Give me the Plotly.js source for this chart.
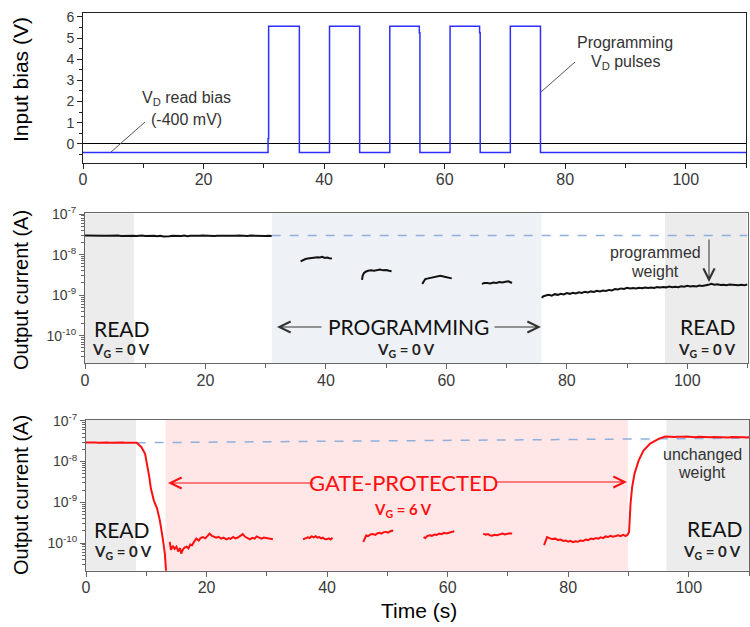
<!DOCTYPE html>
<html><head><meta charset="utf-8">
<script src="https://cdn.plot.ly/plotly-3.0.1.min.js"></script>
<style>html,body{margin:0;padding:0;background:#fff}#chart{width:750px;height:627px}</style>
</head><body><div id="chart"></div>
<script>
// ---- Data ----
var biasTime = [0,30.7,30.7,30.8,30.8,35.9,35.9,40.9,40.9,45.9,45.9,50.9,50.9,55.8,55.8,55.9,55.9,60.9,60.9,65.8,65.8,65.9,65.9,70.9,70.9,75.9,75.9,110];
var biasVolt = [-0.4,-0.4,0.25,0.25,5.55,5.55,-0.4,-0.4,5.55,5.55,-0.4,-0.4,5.55,5.55,5.25,5.25,-0.4,-0.4,5.55,5.55,5.25,5.25,-0.4,-0.4,5.55,5.55,-0.4,-0.4];

var progTime = [0,0.5,1,1.5,2,2.5,3,3.5,4,4.5,5,5.5,6,6.5,7,7.5,8,8.5,9,9.5,10,10.5,11,11.5,12,12.5,13,13.5,14,14.5,15,15.5,16,16.5,17,17.5,18,18.5,19,19.5,20,20.5,21,21.5,22,22.5,23,23.5,24,24.5,25,25.5,26,26.5,27,27.5,28,28.5,29,29.5,30,30.5,31,null,
  35.8,36.0,36.3,36.6,37.0,37.4,37.8,38.2,38.6,39.0,39.4,39.8,40.2,40.6,41.0,null,
  46.0,46.1,46.3,46.6,47.0,47.5,48.0,48.5,49.0,49.5,50.0,50.5,50.9,null,
  56.0,56.2,56.5,57.0,57.5,58.0,58.5,59.0,59.5,60.0,60.5,60.9,null,
  65.9,66.3,66.8,67.3,67.8,68.3,68.8,69.3,69.8,70.3,70.9,null,
  75.9,76.0,76.5,77,77.5,78,78.5,79,79.5,80,80.5,81,81.5,82,82.5,83,83.5,84,84.5,85,85.5,86,86.5,87,87.5,88,88.5,89,89.5,90,90.5,91,91.5,92,92.5,93,93.5,94,94.5,95,95.5,96,96.5,97,97.5,98,98.5,99,99.5,100,100.5,101,101.5,102,102.5,103,103.5,104,104.5,105,105.5,106,106.5,107,107.5,108,108.5,109,109.5,110];
var progCurrent = [2.95e-8,2.93e-8,2.96e-8,2.92e-8,2.94e-8,2.95e-8,2.91e-8,2.94e-8,2.96e-8,2.92e-8,2.93e-8,2.95e-8,2.90e-8,2.93e-8,2.95e-8,2.92e-8,2.94e-8,2.88e-8,2.93e-8,2.95e-8,2.90e-8,2.93e-8,2.91e-8,2.94e-8,2.85e-8,2.92e-8,2.80e-8,2.88e-8,2.84e-8,2.91e-8,2.87e-8,2.93e-8,2.90e-8,2.95e-8,2.86e-8,2.92e-8,2.89e-8,2.94e-8,2.91e-8,2.95e-8,2.92e-8,2.88e-8,2.94e-8,2.90e-8,2.93e-8,2.97e-8,2.91e-8,2.94e-8,2.92e-8,2.89e-8,2.94e-8,2.96e-8,2.91e-8,2.93e-8,2.90e-8,2.95e-8,2.92e-8,2.94e-8,2.97e-8,2.92e-8,2.90e-8,2.93e-8,2.89e-8,null,
  6.8e-9,7.1e-9,7.5e-9,7.8e-9,8.0e-9,8.2e-9,8.1e-9,8.4e-9,8.6e-9,8.5e-9,8.8e-9,8.3e-9,8.5e-9,8.2e-9,8.0e-9,null,
  2.4e-9,3.0e-9,3.5e-9,3.8e-9,4.0e-9,4.1e-9,4.0e-9,4.2e-9,4.3e-9,4.1e-9,4.2e-9,4.0e-9,3.9e-9,null,
  1.9e-9,2.2e-9,2.5e-9,2.6e-9,2.7e-9,2.7e-9,2.9e-9,3.0e-9,2.9e-9,2.8e-9,2.7e-9,2.6e-9,null,
  1.9e-9,2.0e-9,2.0e-9,1.95e-9,2.05e-9,2.0e-9,2.1e-9,2.05e-9,2.15e-9,2.2e-9,2.0e-9,null,
  0.85e-9,0.92e-9,0.98e-9,1.02e-9,0.97e-9,1.06e-9,1.02e-9,1.08e-9,1.04e-9,1.13e-9,1.08e-9,1.15e-9,1.10e-9,1.18e-9,1.14e-9,1.22e-9,1.17e-9,1.24e-9,1.20e-9,1.28e-9,1.24e-9,1.30e-9,1.27e-9,1.35e-9,1.31e-9,1.42e-9,1.38e-9,1.47e-9,1.43e-9,1.52e-9,1.47e-9,1.50e-9,1.46e-9,1.53e-9,1.49e-9,1.55e-9,1.51e-9,1.54e-9,1.50e-9,1.58e-9,1.54e-9,1.60e-9,1.56e-9,1.63e-9,1.58e-9,1.61e-9,1.57e-9,1.66e-9,1.62e-9,1.70e-9,1.64e-9,1.69e-9,1.65e-9,1.74e-9,1.69e-9,1.73e-9,1.80e-9,1.92e-9,1.82e-9,1.86e-9,1.78e-9,1.82e-9,1.76e-9,1.84e-9,1.79e-9,1.81e-9,1.75e-9,1.80e-9,1.77e-9,1.83e-9];

var protTime = [0,0.5,1,1.5,2,2.5,3,3.5,4,4.5,5,5.5,6,6.5,7,7.5,8,8.4,9.2,9.8,10.15,10.5,10.76,11.26,11.8,12.25,12.7,13.08,13.25,13.3,null,
  13.9,14.1,14.4,14.7,15.0,15.3,15.6,15.8,16.1,16.4,16.7,17.0,17.3,17.6,17.9,18.3,18.7,19.0,19.4,19.8,20.1,20.5,20.9,21.3,21.6,22.0,22.4,22.8,23.3,23.7,24.0,24.4,24.8,25.2,25.6,26.0,26.4,26.8,27.2,27.6,28.0,28.3,28.7,29.1,29.5,29.9,30.4,31.0,null,
  36.0,36.4,36.8,37.1,37.4,37.8,38.1,38.4,38.7,39.0,39.3,39.6,39.9,40.3,40.6,40.9,null,
  46.0,46.2,46.5,46.8,47.2,47.6,48.0,48.3,48.7,49.0,49.4,49.8,50.1,50.5,50.8,50.9,null,
  56.0,56.3,56.6,57.0,57.4,57.8,58.2,58.6,59.0,59.4,59.8,60.2,60.6,61.1,null,
  65.9,66.3,66.7,67.0,67.4,67.8,68.2,68.6,69.1,69.5,69.9,70.3,70.7,null,
  76.0,76.3,76.5,76.9,77.3,77.9,78.3,78.7,79.2,79.6,80.0,80.4,80.8,81.2,81.6,82.0,82.5,82.9,83.3,83.8,84.2,84.6,85.0,85.4,85.8,86.2,86.6,87.0,87.4,87.9,88.3,88.7,89.1,89.5,89.8,
  90.1,90.2,90.35,90.6,91.0,91.7,92.5,93.6,95.0,
  96.1,96.6,97.1,97.6,98.1,98.6,99.1,99.6,100.1,100.6,101.1,101.6,102.1,102.6,103.1,103.6,104.1,104.6,105.1,105.6,106.1,106.6,107.1,107.6,108.1,108.6,109.1,109.6,110];
var protCurrent = [2.92e-8,2.95e-8,2.90e-8,2.93e-8,2.91e-8,2.94e-8,2.89e-8,2.92e-8,2.90e-8,2.93e-8,2.91e-8,2.88e-8,2.92e-8,2.90e-8,2.93e-8,2.91e-8,2.89e-8,2.88e-8,2.25e-8,1.55e-8,8.9e-9,4.2e-9,2.2e-9,1.1e-9,7.0e-10,3.6e-10,1.4e-10,5.5e-11,2.4e-11,1.5e-11,null,
  1.07e-10,6.8e-11,8.5e-11,7.2e-11,8.1e-11,6.2e-11,7.5e-11,5.5e-11,7.0e-11,7.8e-11,8.1e-11,7.4e-11,9.2e-11,8.8e-11,1.05e-10,1.29e-10,1.15e-10,1.32e-10,1.40e-10,1.30e-10,1.45e-10,1.70e-10,1.50e-10,1.38e-10,1.35e-10,1.42e-10,1.28e-10,1.35e-10,1.23e-10,1.32e-10,1.26e-10,1.40e-10,1.30e-10,1.36e-10,1.48e-10,1.65e-10,1.42e-10,1.30e-10,1.23e-10,1.34e-10,1.28e-10,1.45e-10,1.33e-10,1.28e-10,1.36e-10,1.32e-10,1.27e-10,1.23e-10,null,
  1.23e-10,1.30e-10,1.38e-10,1.32e-10,1.45e-10,1.38e-10,1.47e-10,1.36e-10,1.40e-10,1.30e-10,1.35e-10,1.25e-10,1.23e-10,1.30e-10,1.22e-10,1.35e-10,null,
  1.07e-10,1.30e-10,1.55e-10,1.48e-10,1.62e-10,1.66e-10,1.58e-10,1.72e-10,1.78e-10,1.70e-10,1.85e-10,1.87e-10,1.80e-10,1.95e-10,2.0e-10,1.9e-10,null,
  1.40e-10,1.32e-10,1.48e-10,1.55e-10,1.50e-10,1.62e-10,1.58e-10,1.70e-10,1.65e-10,1.78e-10,1.72e-10,1.80e-10,1.85e-10,1.95e-10,null,
  1.70e-10,1.60e-10,1.66e-10,1.55e-10,1.52e-10,1.60e-10,1.56e-10,1.64e-10,1.70e-10,1.62e-10,1.68e-10,1.74e-10,1.70e-10,null,
  8.9e-11,1.15e-10,1.40e-10,1.32e-10,1.25e-10,1.28e-10,1.18e-10,1.22e-10,1.12e-10,1.15e-10,1.08e-10,1.13e-10,1.05e-10,1.10e-10,1.07e-10,1.15e-10,1.12e-10,1.22e-10,1.18e-10,1.28e-10,1.24e-10,1.33e-10,1.28e-10,1.38e-10,1.32e-10,1.45e-10,1.40e-10,1.50e-10,1.42e-10,1.48e-10,1.55e-10,1.47e-10,1.58e-10,1.50e-10,1.55e-10,
  1.86e-10,4.4e-10,9.3e-10,2.3e-9,5.0e-9,1.07e-8,1.86e-8,2.75e-8,3.6e-8,
  4.10e-8,4.05e-8,4.12e-8,4.02e-8,4.08e-8,3.98e-8,4.05e-8,4.10e-8,4.00e-8,4.06e-8,3.97e-8,4.04e-8,3.99e-8,4.08e-8,4.02e-8,3.96e-8,4.03e-8,3.98e-8,3.94e-8,4.00e-8,3.96e-8,3.92e-8,3.98e-8,3.93e-8,3.97e-8,3.90e-8,3.95e-8,3.92e-8,3.94e-8];

var refTimeMid = [31,110];
var refCurMid = [2.95e-8,2.95e-8];
var refTimeBot = [8.4,110];
var refCurBot = [2.9e-8,3.75e-8];

var logTickVals = [1e-10,1e-9,1e-8,1e-7];
var logTickText = ['10<sup>-10</sup>','10<sup>-9</sup>','10<sup>-8</sup>','10<sup>-7</sup>'];
var logMinorVals = [2e-11,3e-11,4e-11,5e-11,6e-11,7e-11,8e-11,9e-11,2e-10,3e-10,4e-10,5e-10,6e-10,7e-10,8e-10,9e-10,2e-9,3e-9,4e-9,5e-9,6e-9,7e-9,8e-9,9e-9,2e-8,3e-8,4e-8,5e-8,6e-8,7e-8,8e-8,9e-8];

// phase boundaries [start,end]
var midReadA = [0,8.1], midProg = [31,75.8], midReadB = [96.3,110];
var botReadA = [0,8.3], botProt = [13.2,89.9], botReadB = [96.3,110];

// ---- helpers (layout only) ----
function PX(x){return x/750;}
function PY(y){return 1-y/627;}

var tickFontX = {family:'Liberation Sans, Arial, sans-serif', size:16, color:'#3a3a3a'};
var tickFontY = {family:'Liberation Sans, Arial, sans-serif', size:14, color:'#3a3a3a'};

function xAx(dom, anchor, lineColor){
  return {domain:dom, anchor:anchor, range:[0,110], tickmode:'array', tickvals:[0,20,40,60,80,100],
    ticks:'outside', ticklen:5, tickcolor:lineColor, showline:true, linecolor:lineColor, linewidth:1, mirror:true,
    showgrid:false, zeroline:false, tickfont:tickFontX, ticklabelstandoff:-3,
    minor:{tickmode:'array', tickvals:[10,30,50,70,90,110], ticks:'outside', ticklen:4, tickcolor:lineColor}};
}
function logAx(dom, anchor){
  return {domain:dom, anchor:anchor, type:'log', range:[-10.68,-6.98], tickmode:'array', tickvals:logTickVals, ticktext:logTickText,
    ticks:'outside', ticklen:5, tickcolor:'#666', showline:true, linecolor:'#666', linewidth:1, mirror:true,
    showgrid:false, zeroline:false, tickfont:tickFontY,
    minor:{tickmode:'array', tickvals:logMinorVals, ticks:'outside', ticklen:3, tickcolor:'#666'}};
}

var traces = [
  {x:biasTime, y:biasVolt, xaxis:'x', yaxis:'y', mode:'lines', line:{color:'#2f2fff', width:1.5}},
  {x:refTimeMid, y:refCurMid, xaxis:'x2', yaxis:'y2', mode:'lines', line:{color:'#8fb0dc', width:1.5, dash:'dash'}},
  {x:progTime, y:progCurrent, xaxis:'x2', yaxis:'y2', mode:'lines', connectgaps:false, line:{color:'#111', width:2}},
  {x:refTimeBot, y:refCurBot, xaxis:'x3', yaxis:'y3', mode:'lines', line:{color:'#8fb0dc', width:1.5, dash:'dash'}},
  {x:protTime, y:protCurrent, xaxis:'x3', yaxis:'y3', mode:'lines', connectgaps:false, line:{color:'#ff1010', width:2}}
];

function band(xr, ax, color){
  return {type:'rect', xref:ax, yref:(ax==='x2'?'y2':'y3')+' domain', x0:xr[0], x1:xr[1], y0:0, y1:1, fillcolor:color, line:{width:0}, layer:'below'};
}

var shapes = [
  band(midReadA,'x2','#ececec'), band(midProg,'x2','#eef1f5'), band(midReadB,'x2','#ececec'),
  band(botReadA,'x3','#ececec'), band(botProt,'x3','#ffe6e7'), band(botReadB,'x3','#ececec'),
  {type:'line', xref:'paper', yref:'paper', x0:PX(111), y0:PY(152), x1:PX(145), y1:PY(122), line:{color:'#555', width:1}},
  {type:'line', xref:'paper', yref:'paper', x0:PX(541), y0:PY(92), x1:PX(575), y1:PY(62), line:{color:'#555', width:1}}
];

var ann = [];
function txt(x,y,t,size,color,family,extra){
  var a = {xref:'paper', yref:'paper', x:PX(x), y:PY(y), text:t, showarrow:false, xanchor:'center', yanchor:'middle',
    font:{family:family||'Liberation Sans, Arial, sans-serif', size:size, color:color}};
  if(extra){for(var k in extra){a[k]=extra[k];}}
  ann.push(a);
}
function arrow(hx,hy,ax,ay,color){
  ann.push({xref:'paper', yref:'paper', x:PX(hx), y:PY(hy), ax:ax, ay:ay, text:'', showarrow:true,
    arrowhead:5, arrowsize:2.2, arrowwidth:1, arrowcolor:color});
}
var calib = 'Lato, Open Sans, sans-serif';
// axis titles
txt(21,80,'Input bias (V)',21,'#000',null,{textangle:-90});
txt(21,290,'Output current (A)',20,'#000',null,{textangle:-90});
txt(21,495,'Output current (A)',20,'#000',null,{textangle:-90});
txt(419,610,'Time (s)',21,'#000');
// top panel
txt(186,98,'V<sub>D</sub> read bias',16,'#333');
txt(186,119,'(-400 mV)',16,'#333');
txt(625,42,'Programming',16,'#333');
txt(625,62,'V<sub>D</sub> pulses',16,'#333');
// middle
txt(121,328,'READ',21,'#111',calib);
txt(121,350,'<b>V<sub>G</sub> = 0 V</b>',15,'#222',calib);
txt(408,327,'PROGRAMMING',21,'#111',calib);
txt(406,350,'<b>V<sub>G</sub> = 0 V</b>',15,'#222',calib);
txt(707,327,'READ',21,'#111',calib);
txt(707,350,'<b>V<sub>G</sub> = 0 V</b>',15,'#222',calib);
arrow(277,327,46,0,'#333');
arrow(541,327,-48,0,'#333');
txt(655,252,'programmed',16,'#333');
txt(655,271,'weight',16,'#333');
arrow(709,282,0,-44,'#333');
// bottom
txt(122,529,'READ',21,'#111',calib);
txt(123,552,'<b>V<sub>G</sub> = 0 V</b>',15,'#222',calib);
txt(403,482,'GATE-PROTECTED',22,'#ff1010',calib);
txt(403,510,'<b>V<sub>G</sub> = 6 V</b>',15,'#ff1010',calib);
arrow(168,483,147,0,'#ff1010');
arrow(627,482,-132,0,'#ff1010');
txt(702,454,'unchanged',16,'#333');
txt(702,472,'weight',16,'#333');
txt(714,528,'READ',21,'#111',calib);
txt(712,552,'<b>V<sub>G</sub> = 0 V</b>',15,'#222',calib);

var layout = {
  width:750, height:627, margin:{l:0,r:0,t:0,b:0}, showlegend:false,
  paper_bgcolor:'#fff', plot_bgcolor:'rgba(0,0,0,0)',
  xaxis: xAx([PX(83),PX(746)], 'y', '#222'),
  yaxis: {domain:[PY(163),PY(13)], anchor:'x', range:[-0.9,6.18], tickmode:'array', tickvals:[0,1,2,3,4,5,6],
    ticks:'outside', ticklen:5, tickcolor:'#222', showline:true, linecolor:'#222', linewidth:1, mirror:true,
    showgrid:false, zeroline:true, zerolinecolor:'#000', zerolinewidth:1, tickfont:tickFontY,
    minor:{tickmode:'array', tickvals:[-0.5,0.5,1.5,2.5,3.5,4.5,5.5], ticks:'outside', ticklen:3, tickcolor:'#222'}},
  xaxis2: xAx([PX(85),PX(747.5)], 'y2', '#666'),
  yaxis2: logAx([PY(363.3),PY(213.3)], 'x2'),
  xaxis3: xAx([PX(86),PX(749)], 'y3', '#666'),
  yaxis3: logAx([PY(570.7),PY(420)], 'x3'),
  shapes: shapes,
  annotations: ann
};

Plotly.newPlot('chart', traces, layout, {displayModeBar:false, staticPlot:true});
</script>
</body></html>
